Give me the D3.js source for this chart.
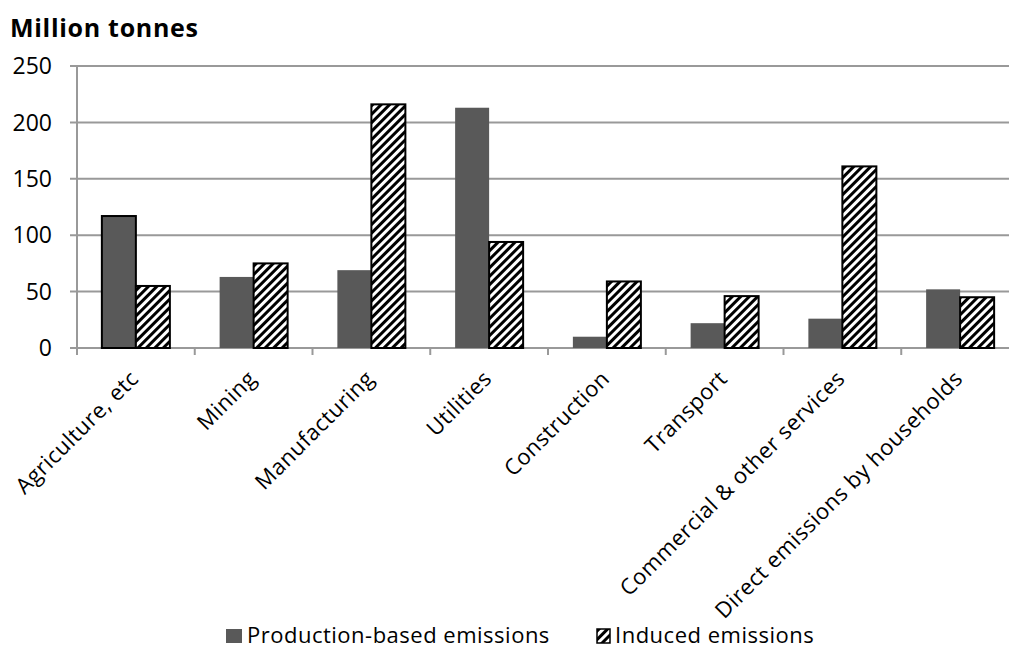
<!DOCTYPE html>
<html>
<head>
<meta charset="utf-8">
<script src="https://cdn.jsdelivr.net/npm/d3@7"></script>
<style>
  body { margin: 0; background: #fff; }
  svg { display: block; font-family: "Open Sans", sans-serif; }
</style>
</head>
<body>
<script>
var categories = ["Agriculture, etc", "Mining", "Manufacturing", "Utilities",
                  "Construction", "Transport", "Commercial & other services",
                  "Direct emissions by households"];
var production = [117, 63, 69, 213, 10, 22, 26, 52];
var induced = [55, 75, 216, 94, 59, 46, 161, 45];
var yTicks = [0, 50, 100, 150, 200, 250];
var seriesNames = ["Production-based emissions", "Induced emissions"];

var width = 1009, height = 649;

var svg = d3.select("body").append("svg")
            .attr("width", width)
            .attr("height", height);

// hatch pattern for induced emissions
var defs = svg.append("defs");
var pat = defs.append("pattern")
    .attr("id", "hatch")
    .attr("patternUnits", "userSpaceOnUse")
    .attr("width", 6)
    .attr("height", 6)
    .attr("patternTransform", "rotate(45)");
pat.append("rect").attr("width", 6).attr("height", 6).attr("fill", "#fff");
pat.append("rect").attr("width", 3).attr("height", 6).attr("fill", "#000");

var x = d3.scaleBand().domain(categories).range([77, 1019]).paddingInner(0).paddingOuter(0);
var y = d3.scaleLinear().domain([0, 250]).range([348, 66]);

// gridlines
svg.selectAll("line.grid")
    .data(yTicks)
    .enter().append("line")
      .attr("class", "grid")
      .attr("x1", 70)
      .attr("x2", 1019)
      .attr("y1", function(d){ return y(d); })
      .attr("y2", function(d){ return y(d); })
      .attr("stroke", "#999")
      .attr("stroke-width", 2);

// y axis line
svg.append("line")
    .attr("x1", 77).attr("x2", 77)
    .attr("y1", y(250)).attr("y2", 355)
    .attr("stroke", "#999").attr("stroke-width", 2);

// category ticks
svg.selectAll("line.xtick")
    .data(categories)
    .enter().append("line")
      .attr("class", "xtick")
      .attr("x1", function(d){ return x(d); })
      .attr("x2", function(d){ return x(d); })
      .attr("y1", 348).attr("y2", 355)
      .attr("stroke", "#999").attr("stroke-width", 2);

// y labels
svg.selectAll("text.ylab")
    .data(yTicks)
    .enter().append("text")
      .attr("class", "ylab")
      .attr("x", 52)
      .attr("y", function(d){ return y(d); })
      .attr("dy", "0.36em")
      .attr("text-anchor", "end")
      .attr("font-size", 23)
      .attr("fill", "#000")
      .text(function(d){ return d; });

var barW = 34;

// production bars
svg.selectAll("rect.prod")
    .data(production)
    .enter().append("rect")
      .attr("class", "prod")
      .attr("x", function(d, i){ return x(categories[i]) + x.bandwidth() / 2 - barW; })
      .attr("y", function(d){ return y(d); })
      .attr("width", barW)
      .attr("height", function(d){ return y(0) - y(d); })
      .attr("fill", "#595959")
      .attr("stroke", function(d, i){ return i == 0 ? "#000" : "none"; })
      .attr("stroke-width", 2);

// induced bars
svg.selectAll("rect.ind")
    .data(induced)
    .enter().append("rect")
      .attr("class", "ind")
      .attr("x", function(d, i){ return x(categories[i]) + x.bandwidth() / 2; })
      .attr("y", function(d){ return y(d); })
      .attr("width", barW)
      .attr("height", function(d){ return y(0) - y(d); })
      .attr("fill", "url(#hatch)")
      .attr("stroke", "#000")
      .attr("stroke-width", 2);

// category labels
svg.selectAll("text.xlab")
    .data(categories)
    .enter().append("text")
      .attr("class", "xlab")
      .attr("transform", function(d){
          return "translate(" + (x(d) + x.bandwidth() / 2 + 4) + ",380) rotate(-45)";
      })
      .attr("text-anchor", "end")
      .attr("font-size", 22)
      .attr("letter-spacing", 0.5)
      .attr("fill", "#000")
      .text(function(d){ return d; });

// title
svg.append("text")
    .attr("x", 10)
    .attr("y", 37)
    .attr("font-size", 25)
    .attr("font-weight", "bold")
    .attr("letter-spacing", 0.7)
    .attr("fill", "#000")
    .text("Million tonnes");

// legend
var legendX = [226, 597];
var legend = svg.selectAll("g.legend")
    .data(seriesNames)
    .enter().append("g")
      .attr("class", "legend")
      .attr("transform", function(d, i){ return "translate(" + legendX[i] + ",629)"; });

legend.append("rect")
    .attr("width", function(d, i){ return i == 0 ? 16 : 13; })
    .attr("height", 14)
    .attr("fill", function(d, i){ return i == 0 ? "#595959" : "url(#hatch)"; })
    .attr("stroke", function(d, i){ return i == 0 ? "none" : "#000"; })
    .attr("stroke-width", 1.5);

legend.append("text")
    .attr("x", function(d, i){ return i == 0 ? 21 : 18; })
    .attr("y", 14)
    .attr("font-size", 22)
    .attr("letter-spacing", 0.5)
    .attr("fill", "#000")
    .text(function(d){ return d; });
</script>
</body>
</html>
